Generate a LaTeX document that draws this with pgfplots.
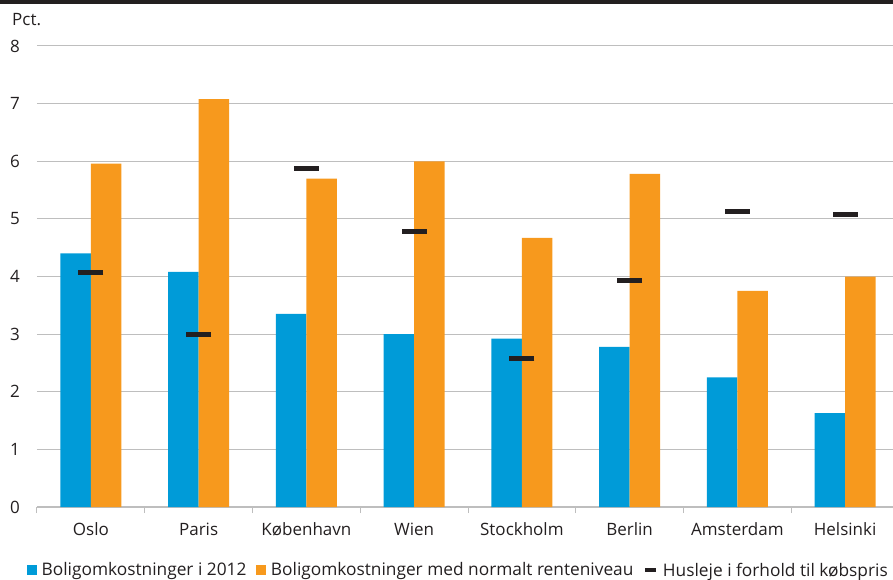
\documentclass[border=0pt]{standalone}
\usepackage{pgfplots}
\pgfplotsset{compat=1.18}
\usepackage{fontspec}
\setmainfont{Open Sans}
\definecolor{cblue}{RGB}{0,155,216}
\definecolor{corange}{RGB}{247,153,29}
\definecolor{cgrid}{RGB}{190,190,190}
\definecolor{ctext}{RGB}{35,31,32}
\newcommand{\chartfont}{\fontsize{17}{20}\selectfont}
\newcommand{\legfont}{\fontsize{17.3}{20}\selectfont}
\begin{document}
\begin{tikzpicture}
\begin{axis}[
  scale only axis, width=862pt, height=461pt,
  xmin=-0.5, xmax=7.5, ymin=0, ymax=8,
  axis x line*=bottom, axis y line*=left,
  y axis line style={draw=none},
  x axis line style={cgrid, line width=1.2pt, -},
  ytick={0,...,8},
  ymajorgrids, grid style={cgrid, line width=1pt},
  xtick={0,...,7},
  xticklabels={Oslo,Paris,København,Wien,Stockholm,Berlin,Amsterdam,Helsinki},
  minor xtick={-0.5,0.5,...,7.5},
  major tick length=0pt, minor tick length=6pt, tick align=outside,
  tick style={cgrid, line width=1pt},
  tick label style={font=\chartfont, text=ctext, inner sep=0pt},
  xticklabel style={anchor=base, yshift=-28pt},
  yticklabel style={anchor=east, xshift=-17pt},
  /pgf/number format/assume math mode=true,
  legend columns=3,
  legend style={draw=none, fill=none, inner sep=0pt, font=\legfont, text=ctext,
    at={(axis description cs:-0.0116,-0.137)}, anchor=west,
    /tikz/every even column/.append style={column sep=8pt},
    /tikz/every odd column/.append style={column sep=3pt},
    nodes={inner sep=2pt}},
]
\addplot[ybar, bar width=0.283, bar shift=-0.1415, fill=cblue, draw=none,
  legend image code/.code={\fill[cblue] (0pt,-5pt) rectangle (9.5pt,5pt);}]
  coordinates {(0,4.40) (1,4.08) (2,3.35) (3,3.00) (4,2.92) (5,2.78) (6,2.25) (7,1.63)};
\addlegendentry{Boligomkostninger i 2012}
\addplot[ybar, bar width=0.283, bar shift=0.1415, fill=corange, draw=none,
  legend image code/.code={\fill[corange] (0pt,-5pt) rectangle (9.5pt,5pt);}]
  coordinates {(0,5.96) (1,7.08) (2,5.70) (3,6.00) (4,4.67) (5,5.78) (6,3.75) (7,4.00)};
\addlegendentry{Boligomkostninger med normalt renteniveau}
\addplot[only marks, mark=-, mark size=12.5pt, mark options={line width=5pt, draw=ctext},
  legend image code/.code={\draw[ctext, line width=3.5pt] (0pt,0pt) -- (11pt,0pt);}]
  coordinates {(0,4.07) (1,3.00) (2,5.87) (3,4.78) (4,2.58) (5,3.93) (6,5.12) (7,5.08)};
\addlegendentry{Husleje i forhold til købspris}
\coordinate (O) at (rel axis cs:0,0);
\end{axis}
\fill[ctext] ([shift={(-37pt,503pt)}]O) rectangle ++(893pt,4pt);
\node[anchor=base west, inner sep=0pt, text=ctext, font=\chartfont] at ([shift={(-25pt,481pt)}]O) {Pct.};
\pgfresetboundingbox
\path[use as bounding box] ([shift={(-37pt,-72pt)}]O) rectangle ++(893pt,579pt);
\end{tikzpicture}
\end{document}
